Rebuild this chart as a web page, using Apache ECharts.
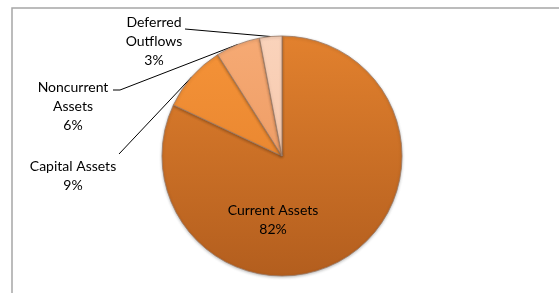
<!DOCTYPE html>
<html>
<head>
<meta charset="utf-8">
<script src="https://cdn.jsdelivr.net/npm/echarts@6/dist/echarts.min.js"></script>
<style>
  html, body { margin: 0; padding: 0; background: #fff; }
  #main { width: 559px; height: 293px; }
</style>
</head>
<body>
<div id="main"></div>
<script>
// data
var categories = ['Current Assets', 'Capital Assets', 'Noncurrent Assets', 'Deferred Outflows'];
var shares = [82, 9, 6, 3];
var labelNames = ['Current Assets', 'Capital Assets', 'Noncurrent\nAssets', 'Deferred\nOutflows'];

// look: top colour, bottom colour
var sliceColors = [
    ['#e2812e', '#b35e1e'],
    ['#f59338', '#e07d2a'],
    ['#f6aa74', '#e7925a'],
    ['#fad3bb', '#f2bfa0']
];
var cx = 282, cy = 156, R = 120;
// where each label block sits (center) and where its leader ends
var labelSpots = [
    {x: 273, y: 220},
    {x: 73, y: 176, line: [[119, 154]]},
    {x: 73, y: 106, line: [[120, 90], [113, 90]]},
    {x: 154, y: 41, line: [[185, 29]]}
];

var chart = echarts.init(document.getElementById('main'));

var pieData = [];
for (var i = 0; i < categories.length; i++) {
    var c = sliceColors[i];
    pieData.push({
        name: categories[i],
        value: shares[i],
        itemStyle: {
            color: {
                type: 'linear', x: 0, y: cy - R, x2: 0, y2: cy + R, global: true,
                colorStops: [
                    {offset: 0, color: c[0]},
                    {offset: 1, color: c[1]}
                ]
            }
        },
        label: {position: i == 0 ? 'inside' : 'outside'},
        labelLine: {show: i != 0}
    });
}

var option = {
    animation: false,
    backgroundColor: '#fff',
    graphic: [{
        type: 'rect',
        shape: {x: 12, y: 8, width: 620, height: 320},
        style: {fill: 'none', stroke: '#a6a6a6', lineWidth: 1.5},
        silent: true
    }],
    series: [{
        type: 'pie',
        center: [cx, cy],
        radius: R,
        startAngle: 90,
        clockwise: true,
        data: pieData,
        itemStyle: {
            borderColor: '#9a7a66',
            borderWidth: 0.8,
            shadowBlur: 3,
            shadowColor: 'rgba(0,0,0,0.25)',
            shadowOffsetY: 1
        },
        label: {
            color: '#000',
            fontFamily: 'Lato',
            fontSize: 14,
            lineHeight: 19,
            align: 'center',
            formatter: function (p) {
                return labelNames[p.dataIndex] + '\n' + Math.round(p.percent) + '%';
            }
        },
        labelLine: {
            lineStyle: {color: '#000', width: 1},
            length: 10,
            length2: 10
        },
        labelLayout: function (p) {
            var s = labelSpots[p.dataIndex];
            var out = {x: s.x, y: s.y, align: 'center', verticalAlign: 'middle'};
            if (s.line && p.labelLinePoints) {
                var pts = [p.labelLinePoints[0]].concat(s.line);
                if (pts.length < 3) pts.push(s.line[s.line.length - 1]);
                out.labelLinePoints = pts;
            }
            return out;
        }
    }]
};

chart.setOption(option);
</script>
</body>
</html>
